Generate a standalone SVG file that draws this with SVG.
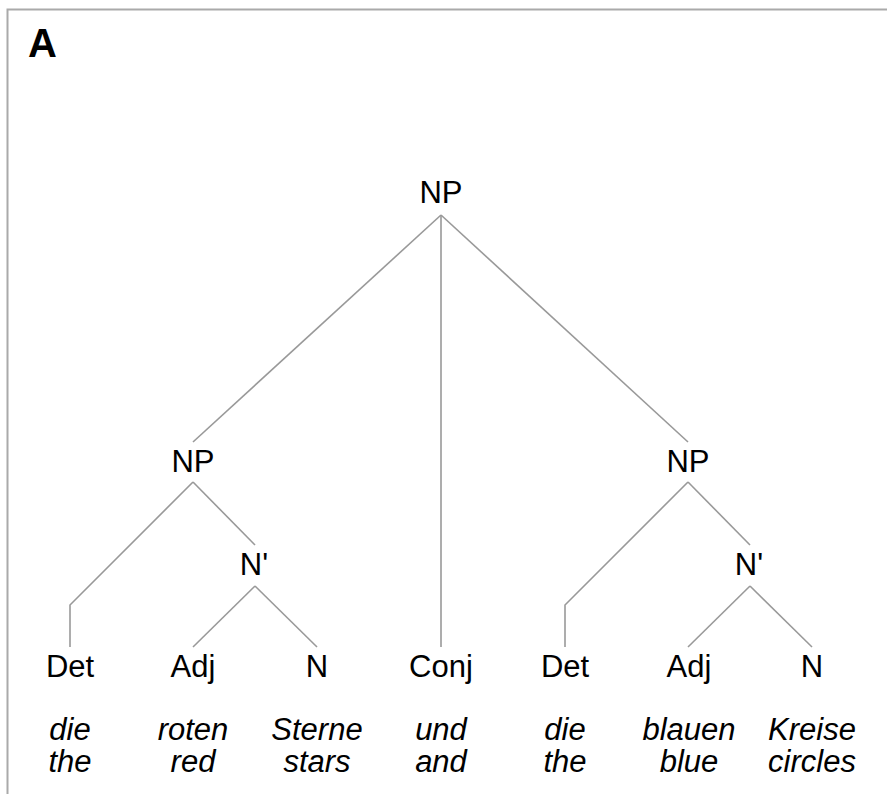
<svg xmlns="http://www.w3.org/2000/svg" width="887" height="794" viewBox="0 0 887 794">
<style>
.lbl{font-family:"Liberation Sans",Arial,sans-serif;font-size:31px;fill:#000;text-anchor:middle}
.it{font-family:"Liberation Sans",Arial,sans-serif;font-size:31px;font-style:italic;fill:#000;text-anchor:middle}
.edge{stroke:#999;stroke-width:1.6;fill:none}
</style>
<rect x="0" y="0" width="887" height="794" fill="#fff"/>
<path d="M7.5,800 V9.5 H890" fill="none" stroke="#aaa" stroke-width="2"/>
<text x="28" y="57" font-family="Liberation Sans,Arial,sans-serif" font-size="40" font-weight="bold">A</text>
<g id="connectors">
<line class="edge" x1="441" y1="215" x2="193" y2="442"/>
<line class="edge" x1="441" y1="215" x2="441" y2="647"/>
<line class="edge" x1="441" y1="215" x2="688" y2="442"/>
<polyline class="edge" points="193,482 70,605 70,647"/>
<line class="edge" x1="193" y1="482" x2="255" y2="545"/>
<line class="edge" x1="255" y1="586" x2="193" y2="647"/>
<line class="edge" x1="255" y1="586" x2="317" y2="647"/>
<polyline class="edge" points="688,482 565,605 565,647"/>
<line class="edge" x1="688" y1="482" x2="750" y2="545"/>
<line class="edge" x1="750" y1="586" x2="688" y2="647"/>
<line class="edge" x1="750" y1="586" x2="812" y2="647"/>
</g>
<g id="np-root"><text class="lbl" x="441" y="203">NP</text></g>
<g id="np-left"><text class="lbl" x="193" y="472">NP</text></g>
<g id="np-right"><text class="lbl" x="688" y="472">NP</text></g>
<g id="nbar-left"><text class="lbl" x="254" y="575">N'</text></g>
<g id="nbar-right"><text class="lbl" x="749" y="575">N'</text></g>
<g id="det-left"><text class="lbl" x="70" y="677">Det</text><text class="it" x="70" y="740">die</text><text class="it" x="70" y="772">the</text></g>
<g id="adj-left"><text class="lbl" x="193" y="677">Adj</text><text class="it" x="193" y="740">roten</text><text class="it" x="193" y="772">red</text></g>
<g id="n-left"><text class="lbl" x="317" y="677">N</text><text class="it" x="317" y="740">Sterne</text><text class="it" x="317" y="772">stars</text></g>
<g id="conj"><text class="lbl" x="441" y="677">Conj</text><text class="it" x="441" y="740">und</text><text class="it" x="441" y="772">and</text></g>
<g id="det-right"><text class="lbl" x="565" y="677">Det</text><text class="it" x="565" y="740">die</text><text class="it" x="565" y="772">the</text></g>
<g id="adj-right"><text class="lbl" x="689" y="677">Adj</text><text class="it" x="689" y="740">blauen</text><text class="it" x="689" y="772">blue</text></g>
<g id="n-right"><text class="lbl" x="812" y="677">N</text><text class="it" x="812" y="740">Kreise</text><text class="it" x="812" y="772">circles</text></g>
</svg>
